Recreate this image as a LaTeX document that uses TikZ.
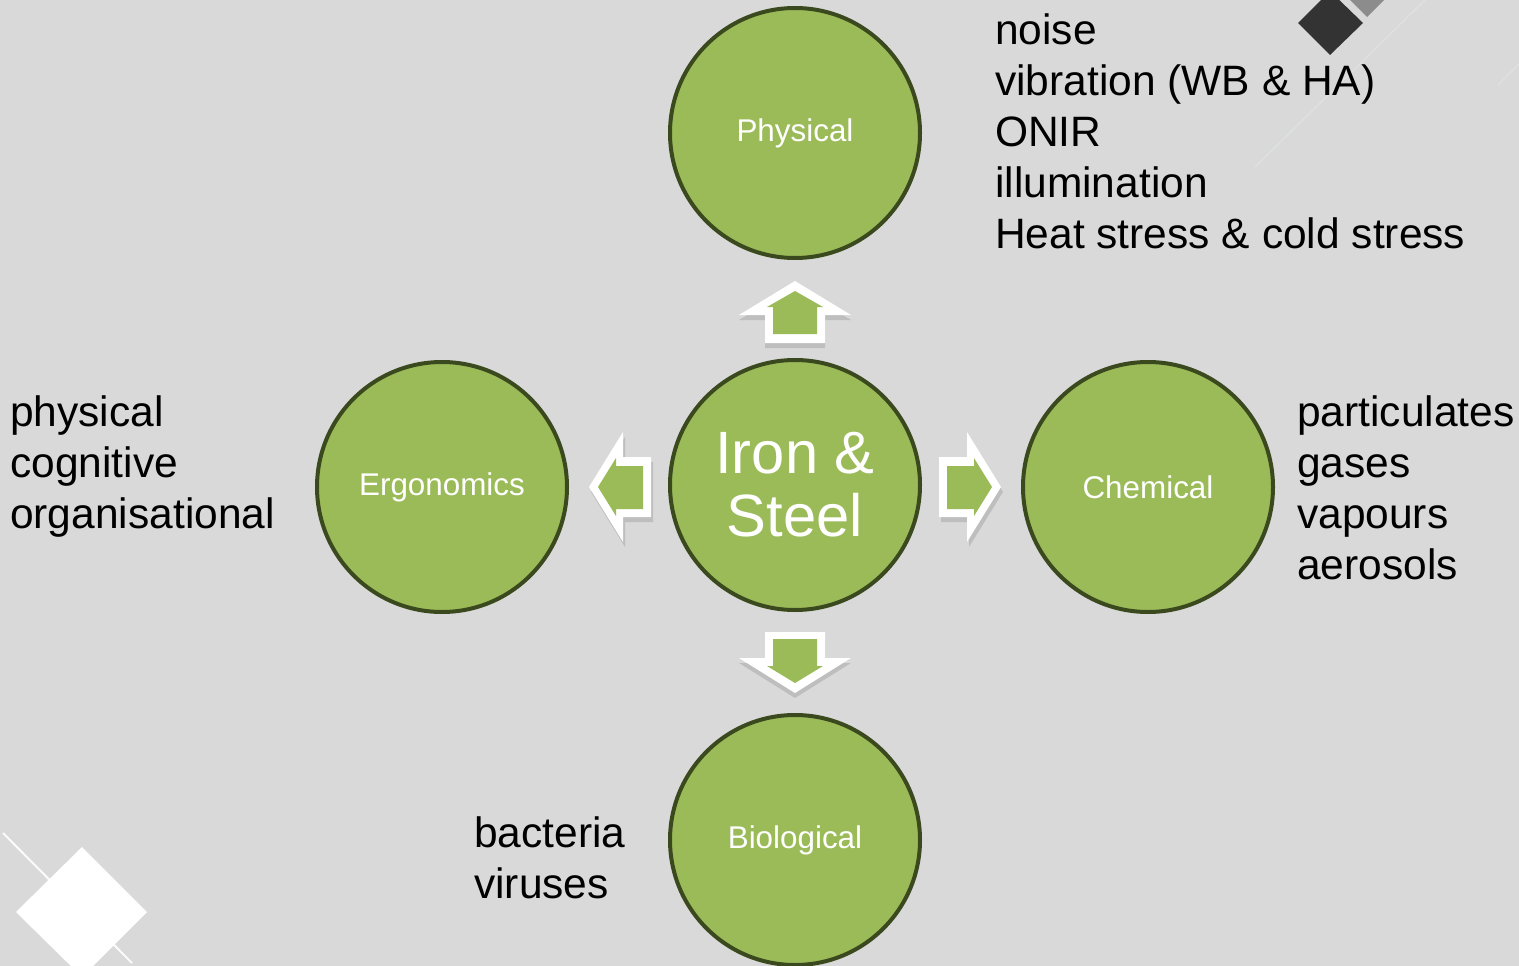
\documentclass[tikz,border=0pt]{standalone}
\usepackage{fontspec}
\setmainfont{Liberation Sans}
\definecolor{bg}{HTML}{D9D9D9}
\definecolor{leaf}{HTML}{9BBB59}
\definecolor{rim}{HTML}{3B4A1E}
\definecolor{darkdia}{HTML}{333333}
\definecolor{greydia}{HTML}{8C8C8C}
\definecolor{faintline}{HTML}{E2ECE6}
\tikzset{
  hazard/.style={circle, draw=rim, line width=4pt, fill=leaf, minimum size=250pt, inner sep=0pt, text=white, align=center, font=\fontsize{31.4}{36}\selectfont},
  listtext/.style={anchor=base west, align=left, inner sep=0pt, font=\fontsize{42.5}{51}\selectfont},
  arrowrim/.style={fill=white},
  arrowfill/.style={fill=leaf},
  arrowshadow/.style={fill=black, opacity=0.12},
  faint/.style={draw=faintline, opacity=0.6, line width=1pt}
}
\begin{document}
\begin{tikzpicture}[x=1pt,y=-1pt]
\fill[bg] (0,0) rectangle (1519,966);
\useasboundingbox (0,0) rectangle (1519,966);
\clip (0,0) rectangle (1519,966);
% decorations
\draw[faint] (1255,167) -- (1425,0);
\draw[faint] (1498,85) -- (1519,64);
\fill[greydia] (1367,17) -- (1399,-15) -- (1367,-47) -- (1335,-15) -- cycle;
\fill[darkdia] (1298,23) -- (1330,55) -- (1363,23) -- (1330,-9) -- cycle;
\draw[white, line width=2pt, opacity=0.9] (3,833) -- (132,963);
\fill[white] (16,912) -- (82,847) -- (147,912) -- (82,977) -- cycle;
% circles
\node[hazard] (phys) at (795,133) {\raisebox{-2pt}{Physical}};
\node[hazard] (ergo) at (442,487) {\raisebox{-2pt}{Ergonomics}};
\node[hazard, font=\fontsize{59.7}{63}\selectfont] (core) at (795,485) {Iron \&\\Steel};
\node[hazard] (chem) at (1148,487) {Chemical};
\node[hazard] (bio) at (795,840) {\raisebox{-2pt}{Biological}};
% block arrows: up
\fill[arrowshadow] (795,286) -- (851,320) -- (825,320) -- (825,348) -- (765,348) -- (765,320) -- (739,320) -- cycle;
\fill[arrowrim] (795,281) -- (851,315) -- (825,315) -- (825,343) -- (765,343) -- (765,315) -- (739,315) -- cycle;
\fill[arrowfill] (795,291) -- (823,307) -- (817,307) -- (817,334) -- (773,334) -- (773,307) -- (767,307) -- cycle;
% down
\fill[arrowshadow] (765,637) -- (825,637) -- (825,663) -- (851,663) -- (795,698) -- (739,663) -- (765,663) -- cycle;
\fill[arrowrim] (765,632) -- (825,632) -- (825,658) -- (851,658) -- (795,693) -- (739,658) -- (765,658) -- cycle;
\fill[arrowfill] (773,639) -- (817,639) -- (817,666) -- (823,666) -- (795,683) -- (767,666) -- (773,666) -- cycle;
% left
\fill[arrowshadow] (591,492) -- (625,437) -- (625,462) -- (653,462) -- (653,522) -- (625,522) -- (625,547) -- cycle;
\fill[arrowrim] (589,487) -- (623,432) -- (623,457) -- (651,457) -- (651,517) -- (623,517) -- (623,542) -- cycle;
\fill[arrowfill] (598,487) -- (616,458) -- (616,466) -- (643,466) -- (643,509) -- (616,509) -- (616,516) -- cycle;
% right
\fill[arrowshadow] (1003,492) -- (969,437) -- (969,462) -- (941,462) -- (941,522) -- (969,522) -- (969,547) -- cycle;
\fill[arrowrim] (1001,487) -- (967,432) -- (967,457) -- (939,457) -- (939,517) -- (967,517) -- (967,542) -- cycle;
\fill[arrowfill] (992,487) -- (974,458) -- (974,466) -- (947,466) -- (947,509) -- (974,509) -- (974,516) -- cycle;
% lists (anchored at the baseline of their last line)
\node[listtext] (physlist) at (995,248) {noise\\vibration (WB \& HA)\\ONIR\\illumination\\Heat stress \& cold stress};
\node[listtext] (chemlist) at (1297,579) {particulates\\gases\\vapours\\aerosols};
\node[listtext] (ergolist) at (10,528) {physical\\cognitive\\organisational};
\node[listtext] (biolist) at (474,898) {bacteria\\viruses};
\end{tikzpicture}
\end{document}
